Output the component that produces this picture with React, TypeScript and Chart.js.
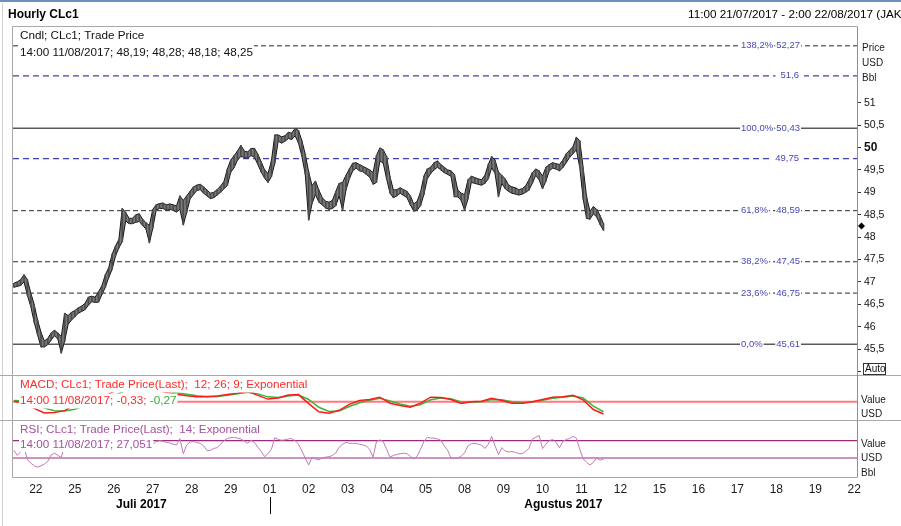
import React, { useEffect, useRef } from "react";
import { Chart, registerables } from "chart.js";

Chart.register(...registerables);

const FONT = '"Liberation Sans", Arial, Helvetica, sans-serif';

// ---------- texts ----------
const titleLeft = "Hourly CLc1";
const titleRight = "11:00 21/07/2017 - 2:00 22/08/2017 (JAK";
const priceHeader = ["Cndl; CLc1; Trade Price", "14:00 11/08/2017; 48,19; 48,28; 48,18; 48,25"];
const macdHeader = ["MACD; CLc1; Trade Price(Last);  12; 26; 9; Exponential", "14:00 11/08/2017; -0,33; ", "-0,27"];
const rsiHeader = ["RSI; CLc1; Trade Price(Last);  14; Exponential", "14:00 11/08/2017; 27,051"];
const priceAxisUnits = ["Price", "USD", "Bbl"];
const macdAxisUnits = ["Value", "USD"];
const rsiAxisUnits = ["Value", "USD", "Bbl"];

// ---------- time axis (hour index, 23 trading hours per day) ----------
const dayLabels = ["22", "25", "26", "27", "28", "29", "01", "02", "03", "04", "05", "08", "09", "10", "11", "12", "15", "16", "17", "18", "19", "22"];
const monthLabels = ["Juli 2017", "Agustus 2017"];
const firstDayHour = 13;
const hoursPerDay = 23;
const monthBreakDay = 6;
const hoursPerCandle = 2;
const hoursPerMacdPoint = 6;
const X_MIN = -0.5;
const X_MAX = 497.6;

// ---------- price (2-hour low / high) ----------
const priceLow = [
  46.88, 46.90, 46.92, 47.00, 46.70, 46.45, 46.10, 45.82, 45.55, 45.55,
  45.60, 45.70, 45.80, 45.72, 45.41, 45.68, 46.05, 46.15, 46.22, 46.30,
  46.34, 46.38, 46.48, 46.56, 46.54, 46.55, 46.72, 46.88, 47.10, 47.28,
  47.58, 47.76, 47.90, 48.36, 48.30, 48.30, 48.33, 48.35, 48.26, 48.18,
  47.87, 48.20, 48.60, 48.64, 48.64, 48.60, 48.62, 48.60, 48.56, 48.62,
  48.27, 48.55, 48.85, 48.95, 49.04, 49.06, 48.98, 48.92, 48.86, 48.88,
  48.94, 49.00, 49.08, 49.15, 49.45, 49.55, 49.72, 49.80, 49.78, 49.76,
  49.82, 49.78, 49.62, 49.45, 49.32, 49.22, 49.35, 49.65, 50.14, 50.10,
  50.14, 50.20, 50.18, 50.26, 50.10, 49.80, 49.40, 48.38, 48.75, 48.95,
  48.78, 48.72, 48.65, 48.62, 48.64, 48.70, 48.92, 48.60, 49.05, 49.30,
  49.48, 49.54, 49.48, 49.46, 49.40, 49.34, 49.18, 49.22, 49.70, 49.65,
  49.30, 48.98, 48.88, 48.92, 48.98, 48.93, 48.88, 48.72, 48.58, 48.60,
  48.70, 48.95, 49.30, 49.42, 49.50, 49.56, 49.50, 49.44, 49.40, 49.36,
  48.90, 48.90, 48.82, 48.60, 48.85, 49.22, 49.20, 49.18, 49.16, 49.20,
  49.30, 49.55, 49.42, 48.90, 49.20, 49.08, 49.02, 48.98, 48.96, 48.94,
  48.96, 49.00, 49.05, 49.20, 49.38, 49.28, 49.08, 49.25, 49.48, 49.54,
  49.52, 49.48, 49.55, 49.66, 49.78, 49.86, 49.95, 49.55, 48.85, 48.42,
  48.40, 48.52, 48.45, 48.28, 48.15,
];
const priceHigh = [
  46.97, 47.00, 47.05, 47.16, 47.05, 46.75, 46.50, 46.15, 45.88, 45.68,
  45.74, 45.86, 45.92, 45.86, 45.78, 46.30, 46.25, 46.32, 46.36, 46.42,
  46.46, 46.52, 46.66, 46.68, 46.66, 46.78, 46.92, 47.16, 47.32, 47.62,
  47.80, 47.95, 48.64, 48.55, 48.42, 48.42, 48.50, 48.52, 48.40, 48.32,
  48.26, 48.62, 48.72, 48.75, 48.76, 48.72, 48.74, 48.72, 48.70, 48.92,
  48.82, 48.92, 49.02, 49.12, 49.16, 49.18, 49.12, 49.05, 48.98, 49.00,
  49.06, 49.14, 49.24, 49.52, 49.72, 49.82, 49.92, 50.05, 49.92, 49.90,
  49.98, 49.98, 49.85, 49.68, 49.50, 49.42, 49.70, 50.28, 50.28, 50.24,
  50.26, 50.34, 50.32, 50.43, 50.38, 50.15, 49.85, 49.45, 49.15, 49.25,
  49.05, 48.88, 48.80, 48.78, 48.82, 49.02, 49.20, 49.22, 49.38, 49.52,
  49.65, 49.66, 49.62, 49.58, 49.54, 49.50, 49.44, 49.82, 49.99, 49.95,
  49.80, 49.35, 49.05, 49.06, 49.10, 49.06, 49.02, 48.92, 48.74, 48.80,
  49.00, 49.36, 49.52, 49.56, 49.66, 49.70, 49.62, 49.56, 49.50, 49.48,
  49.40, 49.05, 48.98, 48.95, 49.28, 49.36, 49.33, 49.30, 49.28, 49.38,
  49.62, 49.80, 49.72, 49.45, 49.38, 49.30, 49.16, 49.12, 49.10, 49.06,
  49.08, 49.14, 49.28, 49.44, 49.52, 49.48, 49.36, 49.56, 49.62, 49.66,
  49.64, 49.62, 49.72, 49.86, 49.94, 50.02, 50.23, 50.15, 49.55, 48.90,
  48.58, 48.68, 48.62, 48.48, 48.30,
];
const lastPrice = 48.25;

// ---------- RSI (2-hour) ----------
const rsiValues = [
  48, 36, 44, 55, 27, 18, 12, 9, 12, 16,
  22, 37, 41, 36, 31, 58, 55, 58, 60, 62,
  63, 64, 68, 67, 64, 68, 71, 74, 74, 75,
  75, 74, 75, 68, 64, 64, 65, 65, 60, 57,
  50, 62, 68, 70, 69, 66, 65, 62, 60, 75,
  40, 60, 67, 68, 66, 64, 58, 47, 48, 52,
  54, 62, 70, 75, 77, 78, 76, 74, 69, 64,
  71, 66, 55, 45, 33, 40, 50, 77, 73, 71,
  72, 74, 75, 70, 62, 46, 30, 14, 32, 28,
  26, 30, 32, 33, 36, 42, 55, 62, 66, 64,
  64, 64, 62, 60, 58, 50, 32, 68, 72, 68,
  50, 32, 36, 38, 40, 41, 40, 34, 28, 34,
  50, 68, 78, 76, 76, 74, 71, 58, 48, 30,
  29, 30, 34, 42, 58, 63, 64, 62, 60, 52,
  62, 80, 58, 38, 54, 46, 44, 45, 43, 40,
  40, 45, 52, 74, 78, 82, 52, 62, 70, 73,
  66, 54, 68, 73, 75, 80, 76, 50, 28, 20,
  14, 20, 30, 25, 27,
];
const rsiBands = [70, 30];

// ---------- MACD (6-hour) ----------
const macdValues = [
  0.01, -0.03, -0.18, -0.30, -0.29, -0.24, -0.08, 0.02, 0.08, 0.15,
  0.30, 0.45, 0.46, 0.38, 0.30, 0.25, 0.20, 0.16, 0.13, 0.13,
  0.15, 0.19, 0.23, 0.28, 0.17, 0.07, 0.10, 0.18, 0.19, -0.05,
  -0.27, -0.31, -0.23, -0.07, 0.03, 0.06, 0.12, -0.04, -0.10, -0.15,
  -0.04, 0.12, 0.11, 0.06, -0.05, 0.00, 0.01, 0.09, 0.03, -0.04,
  -0.04, 0.00, 0.06, 0.12, 0.13, 0.17, 0.05, -0.21, -0.33,
];
const signalValues = [
  0.03, 0.02, -0.06, -0.17, -0.24, -0.25, -0.20, -0.10, 0.00, 0.08,
  0.18, 0.30, 0.38, 0.38, 0.34, 0.29, 0.24, 0.20, 0.16, 0.14,
  0.14, 0.17, 0.21, 0.25, 0.21, 0.13, 0.11, 0.15, 0.18, 0.06,
  -0.15, -0.26, -0.25, -0.13, -0.03, 0.04, 0.09, 0.02, -0.06, -0.12,
  -0.08, 0.05, 0.10, 0.08, -0.01, -0.01, 0.00, 0.06, 0.05, 0.00,
  -0.03, -0.01, 0.04, 0.09, 0.12, 0.15, 0.10, -0.12, -0.27,
];

// ---------- Fibonacci & horizontal levels ----------
const fibPercents = ["138,2%", "100,0%", "61,8%", "38,2%", "23,6%", "0,0%"];
const fibLevels = [52.27, 50.43, 48.59, 47.45, 46.75, 45.61];
const fibSolid = [false, true, false, false, false, true];
const resistanceLevels = [51.6, 49.75];
const priceTicks = [45, 45.5, 46, 46.5, 47, 47.5, 48, 48.5, 49, 49.5, 50, 50.5, 51];

const fmt = (v: number) => String(v).replace(".", ",");

function hLine(level: number, axis: string, color: string, width: number, dash: number[]) {
  return {
    type: "line",
    data: [{ x: X_MIN, y: level }, { x: X_MAX, y: level }],
    borderColor: color,
    borderWidth: width,
    borderDash: dash,
    pointRadius: 0,
    fill: false,
    yAxisID: axis,
    xAxisID: "x",
    order: 5,
  };
}

function boxText(ctx: any, text: string, x: number, cy: number, color: string, font: string, h: number) {
  ctx.font = font;
  const w = ctx.measureText(text).width;
  ctx.fillStyle = "#fff";
  ctx.fillRect(x - 1, cy - h / 2, w + 2, h);
  ctx.fillStyle = color;
  ctx.textAlign = "left";
  ctx.textBaseline = "middle";
  ctx.fillText(text, x, cy);
  return w;
}

const decorPlugin = {
  id: "decor",
  beforeDraw(chart: any) {
    const ctx = chart.ctx;
    ctx.save();
    ctx.fillStyle = "#fff";
    ctx.fillRect(0, 0, chart.width, chart.height);
    ctx.restore();
  },
  afterDatasetsDraw(chart: any) {
    const ctx = chart.ctx;
    const ca = chart.chartArea;
    const sx = chart.scales.x;
    const sy = chart.scales.y;
    const sm = chart.scales.yMacd;
    const sr = chart.scales.yRsi;
    ctx.save();

    // top strip + outer line
    ctx.fillStyle = "#6d8fc2";
    ctx.fillRect(0, 0, chart.width, 2);
    ctx.strokeStyle = "#cfcfcf";
    ctx.lineWidth = 1;
    ctx.beginPath();
    ctx.moveTo(2.5, 3);
    ctx.lineTo(2.5, chart.height);
    ctx.stroke();

    // titles
    ctx.textBaseline = "middle";
    ctx.textAlign = "left";
    ctx.fillStyle = "#000";
    ctx.font = `bold 12px ${FONT}`;
    ctx.fillText(titleLeft, 8, 15);
    ctx.font = `11.7px ${FONT}`;
    ctx.fillText(titleRight, 688, 15);

    // frame
    ctx.strokeStyle = "#a9a9a9";
    ctx.lineWidth = 1;
    ctx.beginPath();
    ctx.moveTo(ca.left - 0.5, ca.top - 0.5);
    ctx.lineTo(ca.right, ca.top - 0.5);
    ctx.moveTo(ca.left - 0.5, ca.top - 0.5);
    ctx.lineTo(ca.left - 0.5, ca.bottom + 0.5);
    ctx.moveTo(ca.left - 0.5, ca.bottom + 0.5);
    ctx.lineTo(ca.right, ca.bottom + 0.5);
    const s1 = Math.round(sm.top) - 0.5;
    const s2 = Math.round(sr.top) - 0.5;
    ctx.moveTo(0, s1);
    ctx.lineTo(chart.width, s1);
    ctx.moveTo(0, s2);
    ctx.lineTo(chart.width, s2);
    ctx.stroke();
    ctx.strokeStyle = "#8f8f8f";
    ctx.beginPath();
    ctx.moveTo(ca.right + 0.5, ca.top - 0.5);
    ctx.lineTo(ca.right + 0.5, ca.bottom + 0.5);
    ctx.stroke();

    // panel headers
    const fh = `11.7px ${FONT}`;
    boxText(ctx, priceHeader[0], ca.left + 7, ca.top + 9, "#111", fh, 16);
    boxText(ctx, priceHeader[1], ca.left + 7, ca.top + 26, "#111", fh, 17);
    boxText(ctx, macdHeader[0], ca.left + 7, sm.top + 9, "#ff2a2a", fh, 15);
    const w = boxText(ctx, macdHeader[1], ca.left + 7, sm.top + 25, "#ff2a2a", fh, 15);
    boxText(ctx, macdHeader[2], ca.left + 7 + w, sm.top + 25, "#34b034", fh, 15);
    boxText(ctx, rsiHeader[0], ca.left + 7, sr.top + 9.5, "#a8509f", fh, 14);
    boxText(ctx, rsiHeader[1], ca.left + 7, sr.top + 24.5, "#a8509f", fh, 14);

    // fib labels
    const fl = `9.5px ${FONT}`;
    const fibColor = "#4848b8";
    fibLevels.forEach((lv, i) => {
      const py = sy.getPixelForValue(lv);
      boxText(ctx, fibPercents[i], ca.right - 116, py, fibColor, fl, 10);
      ctx.font = fl;
      const t = fmt(lv);
      const tw = ctx.measureText(t).width;
      boxText(ctx, t, ca.right - 57 - tw, py, fibColor, fl, 10);
    });
    resistanceLevels.forEach((lv) => {
      const py = sy.getPixelForValue(lv);
      const t = fmt(lv);
      ctx.font = fl;
      const tw = ctx.measureText(t).width;
      const x0 = ca.right - 58 - tw;
      ctx.fillStyle = "#fff";
      ctx.fillRect(x0 - 5, py - 5, tw + 10, 10);
      boxText(ctx, t, x0, py, fibColor, fl, 10);
    });

    // axis unit labels
    const f10 = `10px ${FONT}`;
    ctx.font = f10;
    ctx.fillStyle = "#1a1a1a";
    ctx.textAlign = "left";
    ctx.textBaseline = "middle";
    priceAxisUnits.forEach((t, i) => ctx.fillText(t, ca.right + 5, ca.top + 21 + i * 15));
    macdAxisUnits.forEach((t, i) => ctx.fillText(t, ca.right + 4, sm.top + 24 + i * 14));
    rsiAxisUnits.forEach((t, i) => ctx.fillText(t, ca.right + 4, sr.top + 23.5 + i * 14.5));

    // Auto box
    ctx.strokeStyle = "#333";
    ctx.strokeRect(ca.right + 6.5, sy.bottom - 12.5, 22, 11);
    ctx.fillStyle = "#111";
    ctx.fillText("Auto", ca.right + 8, sy.bottom - 7);

    // last price diamond
    const dy = sy.getPixelForValue(lastPrice);
    const dx = ca.right + 4.5;
    ctx.fillStyle = "#000";
    ctx.beginPath();
    ctx.moveTo(dx, dy - 3.5);
    ctx.lineTo(dx + 3.5, dy);
    ctx.lineTo(dx, dy + 3.5);
    ctx.lineTo(dx - 3.5, dy);
    ctx.closePath();
    ctx.fill();

    // month labels
    const breakX = sx.getPixelForValue(firstDayHour + monthBreakDay * hoursPerDay);
    ctx.font = `bold 12px ${FONT}`;
    ctx.textAlign = "center";
    ctx.fillStyle = "#000";
    ctx.fillText(monthLabels[0], (ca.left + breakX) / 2, ca.bottom + 28);
    ctx.fillText(monthLabels[1], (breakX + ca.right) / 2, ca.bottom + 28);
    ctx.strokeStyle = "#000";
    ctx.beginPath();
    ctx.moveTo(Math.round(breakX) + 0.5, ca.bottom + 20);
    ctx.lineTo(Math.round(breakX) + 0.5, ca.bottom + 37);
    ctx.stroke();

    ctx.restore();
  },
};

export default function App() {
  const ref = useRef<HTMLCanvasElement>(null);

  useEffect(() => {
    const canvas = ref.current;
    if (!canvas) return;

    const datasets: any[] = [
      {
        type: "line",
        data: priceHigh.map((v, i) => ({ x: i * hoursPerCandle, y: v })),
        borderColor: "#141414",
        borderWidth: 1,
        pointRadius: 0,
        fill: false,
        yAxisID: "y",
        xAxisID: "x",
        order: 0,
      },
      {
        type: "line",
        data: priceLow.map((v, i) => ({ x: i * hoursPerCandle, y: v })),
        borderColor: "#141414",
        borderWidth: 1,
        pointRadius: 0,
        fill: "-1",
        backgroundColor: "#7a7a7a",
        yAxisID: "y",
        xAxisID: "x",
        order: 0,
      },
      {
        type: "bar",
        data: priceLow.map((lo, i) => ({ x: i * hoursPerCandle, y: [lo, priceHigh[i]] })),
        backgroundColor: "#4a4a4a",
        borderWidth: 0,
        barThickness: 1,
        grouped: false,
        yAxisID: "y",
        xAxisID: "x",
        order: -1,
      },
      ...fibLevels.map((lv, i) =>
        fibSolid[i] ? hLine(lv, "y", "#5a5a5a", 1.5, []) : hLine(lv, "y", "#2a2a2a", 1, [5, 3])
      ),
      ...resistanceLevels.map((lv) => hLine(lv, "y", "#4040b0", 1.2, [6, 4])),
      hLine(0, "yMacd", "#ff7a7a", 2, []),
      {
        type: "line",
        data: signalValues.map((v, i) => ({ x: i * hoursPerMacdPoint, y: v })),
        borderColor: "#3cb43c",
        borderWidth: 1.5,
        pointRadius: 0,
        fill: false,
        yAxisID: "yMacd",
        xAxisID: "x",
        order: 2,
      },
      {
        type: "line",
        data: macdValues.map((v, i) => ({ x: i * hoursPerMacdPoint, y: v })),
        borderColor: "#ff1a1a",
        borderWidth: 1.5,
        pointRadius: 0,
        fill: false,
        yAxisID: "yMacd",
        xAxisID: "x",
        order: 1,
      },
      ...rsiBands.map((lv) => hLine(lv, "yRsi", "#9b2a7e", 1.2, [])),
      {
        type: "line",
        data: rsiValues.map((v, i) => ({ x: i * hoursPerCandle, y: v })),
        borderColor: "#c27bb5",
        borderWidth: 1,
        pointRadius: 0,
        fill: false,
        yAxisID: "yRsi",
        xAxisID: "x",
        order: 1,
      },
    ];

    const hiddenAxis = (weight: number, stackWeight: number, min: number, max: number) => ({
      type: "linear",
      position: "right",
      stack: "panels",
      stackWeight,
      weight,
      min,
      max,
      grid: { display: false },
      border: { display: false },
      ticks: { display: false },
      afterFit: (s: any) => {
        s.width = 44;
      },
    });

    const chart = new Chart(canvas, {
      type: "line",
      data: { datasets },
      options: {
        responsive: false,
        animation: false,
        devicePixelRatio: 1,
        events: [],
        layout: { padding: { left: 13, top: 27, right: 0, bottom: 0 } },
        plugins: { legend: { display: false }, tooltip: { enabled: false } },
        scales: {
          x: {
            type: "linear",
            min: X_MIN,
            max: X_MAX,
            offset: false,
            grid: { display: false, drawTicks: false },
            border: { display: false },
            afterBuildTicks: (s: any) => {
              s.ticks = dayLabels.map((_, i) => ({ value: firstDayHour + i * hoursPerDay }));
            },
            ticks: {
              autoSkip: false,
              maxRotation: 0,
              padding: 5,
              color: "#1a1a1a",
              font: { family: FONT, size: 12 },
              callback: (_v: any, i: number) => dayLabels[i],
            },
            afterFit: (s: any) => {
              s.height = 49;
            },
          },
          y: {
            type: "linear",
            position: "right",
            stack: "panels",
            stackWeight: 349,
            weight: 0,
            min: 44.9,
            max: 52.69,
            afterBuildTicks: (s: any) => {
              s.ticks = priceTicks.map((v) => ({ value: v }));
            },
            grid: { drawOnChartArea: false, drawTicks: true, tickLength: 4, color: "#333", tickColor: "#333" },
            border: { display: false },
            ticks: {
              padding: 3,
              color: "#111",
              autoSkip: false,
              font: (c: any) =>
                c.tick && c.tick.value === 50
                  ? { family: FONT, size: 12, weight: "bold" }
                  : { family: FONT, size: 10.5 },
              callback: (v: any) => (v === 45 ? "" : fmt(v)),
            },
            afterFit: (s: any) => {
              s.width = 44;
            },
          },
          yMacd: hiddenAxis(1, 44.5, -0.504, 0.689),
          yRsi: hiddenAxis(2, 56.5, -13.9, 116.7),
        },
      } as any,
      plugins: [decorPlugin as any],
    } as any);

    return () => chart.destroy();
  }, []);

  return (
    <div style={{ position: "fixed", left: 0, top: 0, width: 901, height: 526, background: "#fff" }}>
      <canvas ref={ref} width={901} height={526} style={{ display: "block", width: 901, height: 526 }} />
    </div>
  );
}
